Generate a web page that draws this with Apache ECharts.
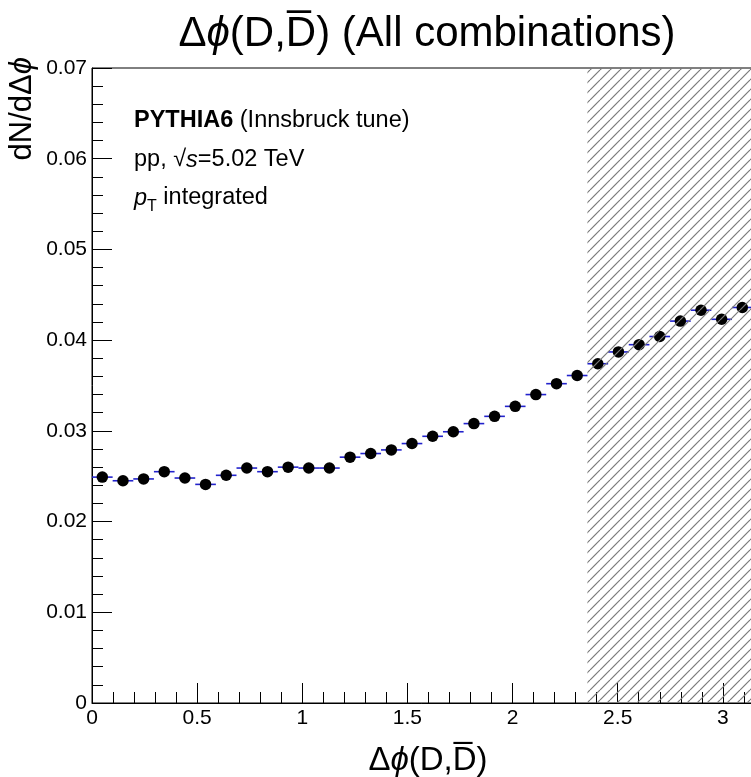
<!DOCTYPE html>
<html><head><meta charset="utf-8">
<script src="https://cdn.jsdelivr.net/npm/echarts@6/dist/echarts.min.js"></script>
<style>html,body{margin:0;padding:0;background:#fff}#c{width:751px;height:777px}</style>
</head><body><div id="c"></div>
<script>
// ---- data ----
const binCenters = [0.0491, 0.1473, 0.2454, 0.3436, 0.4418, 0.5400, 0.6381, 0.7363,
  0.8345, 0.9327, 1.0308, 1.1290, 1.2272, 1.3254, 1.4235, 1.5217,
  1.6199, 1.7181, 1.8162, 1.9144, 2.0126, 2.1108, 2.2089, 2.3071,
  2.4053, 2.5035, 2.6016, 2.6998, 2.7980, 2.8962, 2.9943, 3.0925];
const dNdDphi = [0.0249, 0.0245, 0.0247, 0.0255, 0.0248, 0.0241, 0.0251, 0.0259,
  0.0255, 0.0260, 0.0259, 0.0259, 0.0271, 0.0275, 0.0279, 0.0286,
  0.0294, 0.0299, 0.0308, 0.0316, 0.0327, 0.0340, 0.0352, 0.0361,
  0.0374, 0.0387, 0.0395, 0.0404, 0.0421, 0.0433, 0.0423, 0.0436];
const binWidth = 0.0982;
const hatchRange = [2.356, 3.1416];
const yRange = [0, 0.07];

// ---- hatch pattern ----
function makeHatch() {
  const s = 10;
  const c = document.createElement('canvas');
  c.width = s; c.height = s;
  const g = c.getContext('2d');
  g.strokeStyle = '#7a7a7a';
  g.lineWidth = 1.2;
  for (const k of [-s, 0, s]) {
    g.beginPath(); g.moveTo(k, s); g.lineTo(k + s, 0); g.stroke();
  }
  return c;
}
const hatch = makeHatch();

const chart = echarts.init(document.getElementById('c'), null, {renderer: 'canvas'});
const FONT = 'Liberation Sans';
const pts = binCenters.map((x, i) => [x, dNdDphi[i]]);

chart.setOption({
  animation: false,
  backgroundColor: '#fff',
  grid: {left: 92, top: 68, width: 736, height: 635, show: true, outerBoundsMode: 'none',
         containLabel: false,
         borderColor: '#000', borderWidth: 1, backgroundColor: 'transparent'},
  xAxis: {
    type: 'value', min: 0, max: 3.5, interval: 0.5,
    axisLine: {show: true, onZero: false, lineStyle: {color: '#000', width: 1}},
    axisTick: {show: true, inside: true, length: 20, lineStyle: {color: '#000', width: 1}},
    minorTick: {show: true, splitNumber: 5, length: 11, lineStyle: {color: '#000', width: 1}},
    splitLine: {show: false},
    axisLabel: {color: '#000', fontFamily: FONT, fontSize: 21, margin: 5, showMaxLabel: false}
  },
  yAxis: {
    type: 'value', min: yRange[0], max: yRange[1], interval: 0.01,
    axisLine: {show: true, lineStyle: {color: '#000', width: 1}},
    axisTick: {show: true, inside: true, length: 20, lineStyle: {color: '#000', width: 1}},
    minorTick: {show: true, splitNumber: 5, length: 11, lineStyle: {color: '#000', width: 1}},
    splitLine: {show: false},
    axisLabel: {color: '#000', fontFamily: FONT, fontSize: 21, margin: 5}
  },
  series: [
    {
      type: 'custom', z: 2, clip: false,
      data: pts,
      renderItem: function (params, api) {
        const x = api.value(0), y = api.value(1);
        const p1 = api.coord([x - binWidth / 2, y]);
        const p2 = api.coord([x + binWidth / 2, y]);
        return {type: 'line', shape: {x1: p1[0], y1: p1[1], x2: p2[0], y2: p2[1]},
                style: {stroke: '#2222cc', lineWidth: 1.6}};
      }
    },
    {
      type: 'scatter', z: 3, data: pts, symbol: 'circle', symbolSize: 11.5,
      itemStyle: {color: '#000', opacity: 1}
    },
    {
      type: 'custom', z: 5,
      data: [[hatchRange[0], hatchRange[1]]],
      renderItem: function (params, api) {
        const a = api.coord([api.value(0), yRange[1]]);
        const b = api.coord([api.value(1), yRange[0]]);
        return {type: 'rect', shape: {x: a[0], y: a[1], width: b[0] - a[0], height: b[1] - a[1]},
                style: {fill: {image: hatch, repeat: 'repeat'}, stroke: null}};
      }
    }
  ],
  graphic: [
    {type: 'text', x: 427, y: 34, z: 10,
     style: {text: '{n|Δ}{i|ϕ}{n|(D,D\u0305) (All combinations)}', align: 'center', verticalAlign: 'middle', rich: {
       n: {fontFamily: FONT, fontSize: 42, fill: '#000'},
       i: {fontFamily: FONT, fontStyle: 'italic', fontSize: 42, fill: '#000'}}}},
    {type: 'text', x: 22, y: 57, rotation: Math.PI / 2, z: 10,
     style: {text: '{n|dN/dΔ}{i|ϕ}', align: 'right', verticalAlign: 'middle', rich: {
       n: {fontFamily: FONT, fontSize: 31, fill: '#000'},
       i: {fontFamily: FONT, fontStyle: 'italic', fontSize: 31, fill: '#000'}}}},
    {type: 'text', x: 428, y: 761, z: 10,
     style: {text: '{n|Δ}{i|ϕ}{n|(D,D\u0305)}', align: 'center', verticalAlign: 'middle', rich: {
       n: {fontFamily: FONT, fontSize: 33, fill: '#000'},
       i: {fontFamily: FONT, fontStyle: 'italic', fontSize: 33, fill: '#000'}}}},
    {type: 'text', x: 134, y: 121, z: 10,
     style: {text: '{b|PYTHIA6}{n| (Innsbruck tune)}', verticalAlign: 'middle', rich: {
       b: {fontFamily: FONT, fontWeight: 'bold', fontSize: 23.5, fill: '#000'},
       n: {fontFamily: FONT, fontSize: 23.5, fill: '#000'}}}},
    {type: 'text', x: 134, y: 160, z: 10,
     style: {text: '{n|pp, √}{i|s}{n|=5.02 TeV}', verticalAlign: 'middle', rich: {
       n: {fontFamily: FONT, fontSize: 23.5, fill: '#000'},
       i: {fontFamily: FONT, fontStyle: 'italic', fontSize: 23.5, fill: '#000'}}}},
    {type: 'text', x: 134, y: 198, z: 10,
     style: {text: '{i|p}{s|T}{n| integrated}', verticalAlign: 'middle', rich: {
       i: {fontFamily: FONT, fontStyle: 'italic', fontSize: 23.5, fill: '#000', verticalAlign: 'middle'},
       s: {fontFamily: FONT, fontSize: 16, fill: '#000', verticalAlign: 'bottom', padding: [18, 0, 0, 0]},
       n: {fontFamily: FONT, fontSize: 23.5, fill: '#000', verticalAlign: 'middle'}}}}
  ]
});
</script></body></html>
